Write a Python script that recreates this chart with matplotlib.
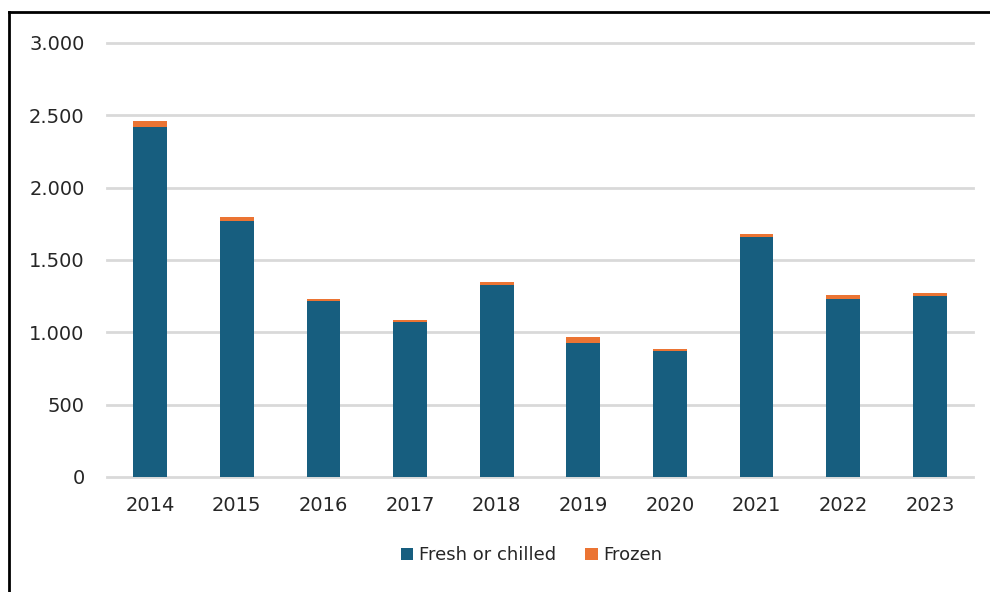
import numpy as np
import matplotlib.pyplot as plt
from matplotlib.lines import Line2D
from matplotlib.ticker import FuncFormatter

# data
years = ['2014', '2015', '2016', '2017', '2018', '2019', '2020', '2021', '2022', '2023']
fresh = [2419, 1772, 1214, 1073, 1329, 924, 869, 1659, 1232, 1249]
frozen = [44, 27, 18, 10, 19, 44, 18, 18, 26, 23]

blue = '#175E7F'
orange = '#EB7433'

plt.rcParams['font.family'] = ['DejaVu Sans']

fig = plt.figure(figsize=(9.9, 5.92), dpi=100)
ax = fig.add_axes([0.108, 0.1943, 0.875, 0.7331])

x = np.arange(len(years))
ax.bar(x, fresh, width=0.39, color=blue, label='Fresh or chilled', zorder=3)
ax.bar(x, frozen, width=0.39, bottom=fresh, color=orange, label='Frozen', zorder=3)

ax.set_xlim(-0.5, len(years) - 0.5)
ax.set_ylim(0, 3000)
ax.set_yticks(np.arange(0, 3001, 500))
ax.yaxis.set_major_formatter(FuncFormatter(lambda v, p: f"{v:,.0f}".replace(",", ".")))
ax.set_xticks(x)
ax.set_xticklabels(years)

ax.grid(axis='y', color='#D9D9D9', linewidth=2, zorder=0)
for gl in ax.get_ygridlines():
    gl.set_clip_on(False)
for s in ax.spines.values():
    s.set_visible(False)
ax.tick_params(axis='both', length=0, labelsize=14, colors='#262626')
ax.tick_params(axis='y', pad=16)
ax.tick_params(axis='x', pad=14)

ax.legend(loc='upper center', bbox_to_anchor=(0.49, -0.122), ncol=2, frameon=False,
          fontsize=13, handlelength=0.7, handleheight=0.7, handletextpad=0.3,
          columnspacing=1.6, labelcolor='#262626')

# outer frame (only top and left visible in the reference)
fig.add_artist(Line2D([0.0091, 0.0091], [0.0, 0.9797], transform=fig.transFigure,
                      color='black', linewidth=2))
fig.add_artist(Line2D([0.0091, 1.0], [0.9797, 0.9797], transform=fig.transFigure,
                      color='black', linewidth=2))

fig.savefig('out.png', dpi=100)
